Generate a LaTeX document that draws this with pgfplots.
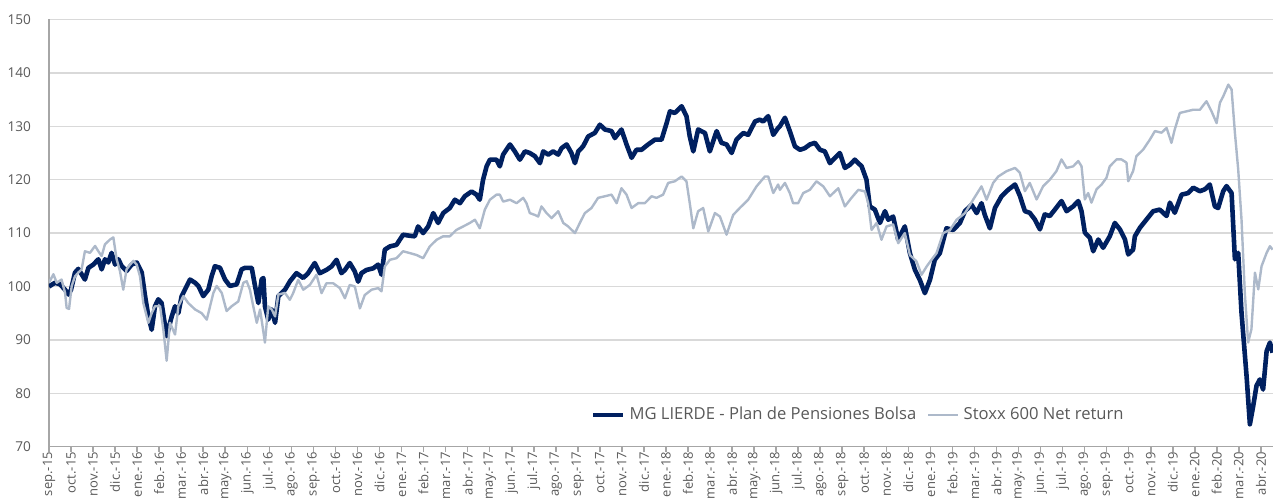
\documentclass[border=0pt]{standalone}
\usepackage{pgfplots}
\pgfplotsset{compat=1.18}
\usepackage{fontspec}
\setmainfont{Open Sans}
\usetikzlibrary{calc}
\definecolor{mgblue}{HTML}{002060}
\definecolor{stoxx}{HTML}{ADB9CA}
\definecolor{txtgray}{HTML}{595959}
\definecolor{gridgray}{HTML}{D9D9D9}
\definecolor{axgray}{HTML}{A6A6A6}
\begin{document}
\begin{tikzpicture}
\begin{axis}[
  scale only axis, width=612pt, height=213.6pt,
  xmin=0, xmax=55.55, ymin=70, ymax=150,
  axis lines*=left,
  axis line style={axgray, line width=0.8pt},
  ytick={70,80,...,150},
  ymajorgrids, grid style={gridgray, line width=0.7pt},
  ytick style={draw=none},
  xtick={0,...,55},
  xticklabels={sep.-15,oct.-15,nov.-15,dic.-15,ene.-16,feb.-16,mar.-16,abr.-16,may.-16,jun.-16,jul.-16,ago.-16,sep.-16,oct.-16,nov.-16,dic.-16,ene.-17,feb.-17,mar.-17,abr.-17,may.-17,jun.-17,jul.-17,ago.-17,sep.-17,oct.-17,nov.-17,dic.-17,ene.-18,feb.-18,mar.-18,abr.-18,may.-18,jun.-18,jul.-18,ago.-18,sep.-18,oct.-18,nov.-18,dic.-18,ene.-19,feb.-19,mar.-19,abr.-19,may.-19,jun.-19,jul.-19,ago.-19,sep.-19,oct.-19,nov.-19,dic.-19,ene.-20,feb.-20,mar.-20,abr.-20},
  xtick style={axgray, line width=0.8pt},
  tick align=outside, major tick length=2.5pt,
  x tick label style={rotate=90, anchor=east, font=\fontsize{6.5}{7}\selectfont, text=txtgray, inner sep=1pt, xshift=1pt},
  y tick label style={font=\fontsize{6.8}{8}\selectfont, text=txtgray, xshift=-3pt},
  /pgf/number format/assume math mode=true,
  legend style={at={(0.662,0.074)}, anchor=center, draw=none, fill=none,
    font=\fontsize{8.3}{10}\selectfont, text=txtgray,
    /tikz/every even column/.append style={column sep=3.5pt}},
  legend columns=2,
  legend image code/.code={\draw[#1] (0pt,0pt) -- (15pt,0pt);},
]
\coordinate (sw) at (rel axis cs:0,0);
\coordinate (ne) at (rel axis cs:1,1);
\addplot[mgblue, line width=2.3pt, line join=round] coordinates {
(0.00,100.0)(0.27,100.7)(0.50,100.4)(0.73,99.4)(0.88,98.5)(1.00,99.4)(1.18,102.6)(1.33,103.3)(1.48,102.3)(1.63,101.3)(1.79,103.5)(2.01,104.1)(2.24,105.1)(2.39,103.2)(2.54,105.1)(2.69,104.5)(2.84,106.3)(3.00,104.1)(3.15,105.1)(3.30,103.8)(3.52,102.9)(3.75,104.1)(3.98,104.5)(4.21,102.6)(4.36,98.2)(4.51,94.4)(4.66,91.9)(4.81,96.3)(4.96,97.6)(5.11,96.9)(5.34,90.7)(5.57,94.4)(5.72,96.3)(5.87,95.0)(6.02,98.2)(6.17,99.4)(6.40,101.3)(6.63,100.7)(6.78,100.1)(7.00,98.2)(7.23,99.4)(7.38,101.9)(7.53,103.8)(7.76,103.5)(7.99,101.3)(8.21,100.1)(8.52,100.4)(8.74,103.2)(8.90,103.5)(9.20,103.5)(9.35,100.1)(9.50,96.9)(9.65,101.3)(9.73,101.6)(9.80,96.3)(9.95,93.8)(10.11,95.7)(10.26,93.2)(10.41,98.2)(10.71,99.4)(10.94,101.0)
(11.23,102.5)(11.54,101.6)(11.76,102.5)(12.06,104.4)(12.29,102.5)(12.59,103.1)(12.82,103.75)(13.05,105.0)(13.27,102.5)(13.43,103.1)(13.65,104.4)(13.88,102.8)(14.03,100.9)(14.18,102.5)(14.41,103.1)(14.71,103.4)(14.94,104.1)(15.09,102.2)(15.24,106.9)(15.47,107.5)(15.77,107.8)(16.07,109.7)(16.38,109.5)(16.60,109.4)(16.75,111.25)(16.98,110.0)(17.21,111.25)(17.44,113.75)(17.66,111.9)(17.89,113.75)(18.19,114.7)(18.42,116.25)(18.65,115.6)(18.87,116.9)(19.18,117.8)(19.40,117.2)(19.55,116.25)(19.70,120.0)(19.86,122.5)(20.01,123.75)(20.31,123.75)(20.46,122.5)(20.61,124.7)(20.92,126.6)(21.14,125.3)(21.37,123.75)(21.60,125.3)(21.82,125.0)(22.05,124.4)
(22.28,123.1)(22.43,125.3)(22.66,124.7)(22.88,125.3)(23.11,124.7)(23.26,125.9)(23.49,126.6)(23.71,125.0)(23.87,123.1)(24.02,125.3)(24.24,126.25)(24.47,128.1)(24.77,128.75)(25.00,130.3)(25.23,129.4)(25.53,129.1)(25.68,127.8)(25.98,129.4)(26.21,126.6)(26.44,124.1)(26.66,125.6)(26.89,125.6)(27.19,126.6)(27.50,127.5)(27.80,127.5)(28.03,130.6)(28.18,132.8)(28.40,132.5)(28.71,133.75)(28.93,131.9)(29.08,128.1)(29.24,125.3)(29.46,129.4)(29.77,128.75)(29.99,125.3)(30.30,129.1)(30.52,126.9)(30.75,126.6)(30.98,125.0)(31.20,127.5)(31.51,128.75)(31.73,128.4)(32.04,130.9)(32.26,131.25)(32.41,130.9)(32.64,131.9)(32.87,128.4)(33.09,129.7)
(33.17,130.0)(33.40,131.6)(33.62,129.1)(33.85,126.25)(34.08,125.6)(34.30,125.9)(34.53,126.6)(34.76,126.9)(34.99,125.6)(35.21,125.3)(35.44,123.1)(35.67,124.1)(35.89,125.0)(36.12,122.2)(36.35,122.8)(36.57,123.75)(36.88,122.5)(37.10,120.0)(37.25,115.0)(37.48,114.4)(37.71,111.9)(37.94,114.1)(38.09,112.5)(38.31,113.1)(38.54,108.75)(38.84,111.25)(39.07,106.25)(39.30,103.1)(39.52,101.25)(39.75,98.75)(39.98,101.25)(40.20,105.0)(40.43,106.25)(40.73,110.9)(41.04,110.6)(41.34,111.9)(41.57,114.1)(41.87,115.3)(42.10,113.75)(42.32,115.6)(42.47,113.4)(42.70,110.9)(42.93,114.7)(43.23,116.9)(43.53,118.1)(43.84,119.1)(44.06,117.0)
(44.29,114.1)(44.51,113.8)(44.74,112.55)(44.97,110.7)(45.19,113.5)(45.42,113.2)(45.65,114.4)(45.95,116.0)(46.18,114.1)(46.48,115.0)(46.71,116.0)(46.86,114.1)(47.01,110.1)(47.24,109.1)(47.39,106.6)(47.62,108.8)(47.84,107.25)(48.14,109.4)(48.37,111.9)(48.60,110.7)(48.83,108.8)(48.98,106.0)(49.20,106.9)(49.28,109.4)(49.51,111.0)(49.81,112.55)(50.11,114.1)(50.41,114.4)(50.72,113.2)(50.87,115.7)(51.09,113.8)(51.40,117.2)(51.70,117.5)(51.93,118.5)(52.23,117.85)(52.46,118.2)(52.68,119.1)(52.91,115.0)(53.06,114.7)(53.29,117.85)(53.44,118.8)(53.67,117.5)(53.82,105.1)(53.97,106.3)(54.12,95.1)(54.35,83.2)(54.50,74.2)(54.65,77.6)(54.80,81.4)(54.95,82.6)(55.10,80.7)(55.26,87.9)(55.41,89.5)(55.53,87.6)
};
\addlegendentry{MG LIERDE - Plan de Pensiones Bolsa}
\addplot[stoxx, line width=1.2pt, line join=round] coordinates {
(0.00,100.7)(0.20,102.3)(0.35,100.7)(0.57,101.3)(0.73,98.8)(0.80,96.0)(0.91,95.8)(1.03,100.1)(1.18,101.9)(1.33,102.6)(1.48,103.2)(1.63,106.6)(1.86,106.3)(2.09,107.6)(2.24,106.6)(2.39,105.7)(2.54,107.9)(2.77,108.8)(2.92,109.2)(3.07,105.1)(3.22,102.9)(3.37,99.4)(3.52,103.2)(3.68,104.1)(3.83,104.8)(3.98,104.1)(4.13,101.9)(4.28,96.9)(4.51,93.2)(4.66,95.0)(4.81,96.3)(5.04,96.3)(5.19,91.9)(5.34,86.1)(5.49,93.2)(5.72,91.0)(5.87,96.3)(6.10,98.2)(6.32,96.9)(6.63,95.7)(6.93,95.0)(7.16,93.8)(7.31,96.3)(7.46,98.8)(7.61,100.1)(7.84,98.8)(8.06,95.4)(8.29,96.3)(8.59,97.2)(8.82,100.7)(8.97,101.0)(9.12,99.4)(9.27,96.3)(9.43,93.2)(9.58,95.7)(9.80,89.5)(9.95,96.3)(10.11,95.7)(10.26,94.4)(10.41,98.5)(10.71,98.8)(10.93,97.5)(11.08,98.75)
(11.31,101.25)(11.54,99.4)(11.84,100.3)(12.14,102.2)(12.37,98.75)(12.59,100.6)(12.90,100.6)(13.20,99.7)(13.43,97.8)(13.65,100.3)(13.88,100.0)(14.11,95.9)(14.33,98.4)(14.64,99.4)(14.94,99.7)(15.09,99.1)(15.24,103.75)(15.47,105.0)(15.77,105.3)(16.07,106.6)(16.38,106.25)(16.68,105.9)(16.98,105.3)(17.28,107.5)(17.59,108.75)(17.89,109.4)(18.19,109.4)(18.49,110.6)(18.80,111.25)(19.10,111.9)(19.33,112.5)(19.55,110.9)(19.78,114.4)(20.01,116.25)(20.31,117.2)(20.46,117.2)(20.61,115.9)(20.92,116.25)(21.22,115.6)(21.52,116.6)(21.67,115.6)(21.82,113.75)(22.05,113.4)
(22.20,113.1)(22.35,115.0)(22.58,113.75)(22.81,112.8)(23.11,114.1)(23.34,111.9)(23.56,111.25)(23.87,110.0)(24.09,111.9)(24.32,113.75)(24.62,114.7)(24.92,116.6)(25.23,116.9)(25.53,117.2)(25.76,115.6)(25.98,118.4)(26.21,117.2)(26.44,114.7)(26.74,115.6)(27.04,115.6)(27.35,116.9)(27.57,116.6)(27.87,117.2)(28.10,119.4)(28.40,119.7)(28.71,120.6)(28.93,119.7)(29.08,115.6)(29.24,110.9)(29.46,114.1)(29.69,114.7)(29.92,110.3)(30.22,113.75)(30.45,113.1)(30.75,109.7)(31.05,113.4)(31.35,114.7)(31.73,116.25)(32.11,118.75)(32.49,120.6)(32.64,120.6)(32.87,117.5)(33.09,119.1)
(33.17,118.1)(33.40,119.4)(33.62,117.5)(33.77,115.6)(34.00,115.6)(34.23,117.5)(34.53,118.1)(34.83,119.7)(35.14,118.75)(35.44,116.9)(35.82,118.4)(36.12,115.0)(36.42,116.6)(36.73,118.1)(37.03,117.8)(37.18,115.6)(37.33,110.6)(37.56,111.9)(37.78,108.75)(38.01,111.25)(38.31,111.6)(38.54,108.1)(38.84,110.0)(39.07,105.9)(39.37,104.7)(39.60,102.2)(39.83,103.75)(40.05,105.0)(40.28,106.25)(40.58,110.0)(40.89,110.6)(41.19,112.5)(41.57,113.75)(41.94,116.25)(42.32,118.75)(42.55,116.25)(42.85,119.4)(43.08,120.6)(43.46,121.6)(43.84,122.2)(44.06,121.3)
(44.29,117.85)(44.51,119.4)(44.82,116.3)(45.12,118.8)(45.42,120.0)(45.72,121.6)(45.95,123.8)(46.18,122.2)(46.48,122.5)(46.71,123.5)(46.86,122.5)(47.01,116.3)(47.16,117.5)(47.31,115.7)(47.54,118.2)(47.77,119.1)(47.99,120.35)(48.14,122.5)(48.45,123.8)(48.67,123.8)(48.90,123.2)(48.98,119.7)(49.20,121.6)(49.35,124.4)(49.66,125.65)(49.96,127.5)(50.19,129.1)(50.49,128.8)(50.72,129.7)(50.94,126.9)(51.09,129.4)(51.32,132.5)(51.62,132.8)(51.93,133.1)(52.23,133.1)(52.53,134.7)(52.76,132.8)(52.99,130.6)(53.14,134.4)(53.29,135.6)(53.52,137.8)(53.67,136.9)(53.82,128.8)(53.97,121.9)(54.12,112.55)(54.27,98.8)(54.42,89.5)(54.57,92.0)(54.73,102.6)(54.88,99.45)(55.03,103.8)(55.26,106.3)(55.41,107.55)(55.53,106.9)
};
\addlegendentry{Stoxx 600 Net return}
\end{axis}
\pgfresetboundingbox
\path[use as bounding box] ($(sw)+(-24.5pt,-27.65pt)$) rectangle ($(ne)+(0pt,9.75pt)$);
\end{tikzpicture}
\end{document}
